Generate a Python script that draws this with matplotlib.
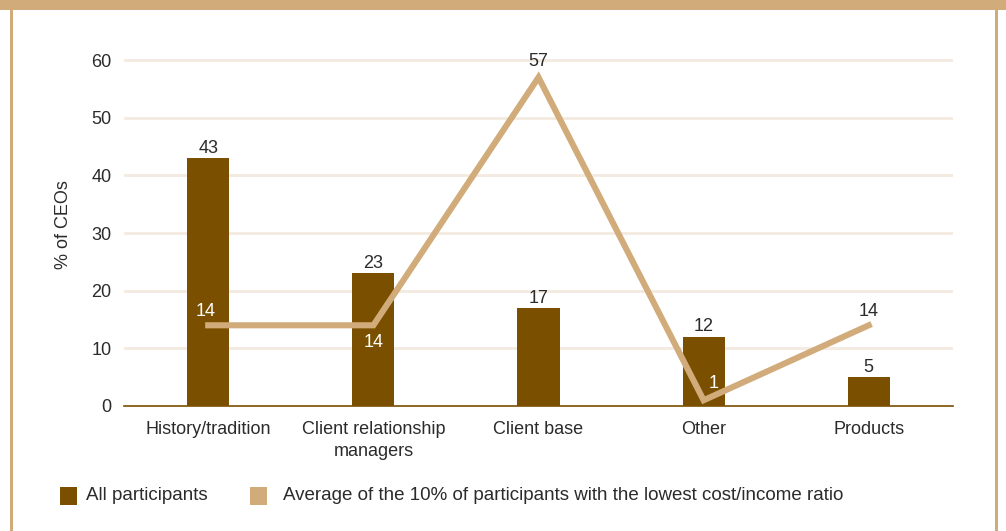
import matplotlib.pyplot as plt
from matplotlib.patches import Rectangle

plt.rcParams["font.family"] = ["Liberation Sans", "DejaVu Sans"]

categories = ["History/tradition", "Client relationship\nmanagers", "Client base",
              "Other", "Products"]
all_participants = [43, 23, 17, 12, 5]
lowest_cost_income = [14, 14, 57, 1, 14]

BAR_COLOR = "#7A5000"
LINE_COLOR = "#D2AB7A"
GRID_COLOR = "#F3EAE0"
TEXT_COLOR = "#2B2B2B"
FS = 13

fig = plt.figure(figsize=(10.06, 5.31), dpi=100)

# page frame: tan band on top, thin rules on the sides
fig.patches.append(Rectangle((0, 1 - 10 / 531), 1, 10 / 531, transform=fig.transFigure,
                             facecolor=LINE_COLOR, edgecolor="none"))
fig.patches.append(Rectangle((10 / 1006, 0), 3 / 1006, 1, transform=fig.transFigure,
                             facecolor=LINE_COLOR, edgecolor="none"))
fig.patches.append(Rectangle((995 / 1006, 0), 3 / 1006, 1, transform=fig.transFigure,
                             facecolor=LINE_COLOR, edgecolor="none"))

ax = fig.add_axes([124 / 1006, 125 / 531, 829 / 1006, 0.684])
x = range(len(categories))

ax.bar(x, all_participants, width=0.255, color=BAR_COLOR, zorder=2)
ax.plot(x, lowest_cost_income, color=LINE_COLOR, linewidth=4.4,
        solid_joinstyle="miter", zorder=3)

ax.set_xlim(-0.51, 4.51)
ax.set_ylim(0, 63)
ax.set_yticks(range(0, 61, 10))
ax.grid(axis="y", color=GRID_COLOR, linewidth=2, zorder=0)
ax.set_axisbelow(True)
for side in ["top", "right", "left"]:
    ax.spines[side].set_visible(False)
ax.spines["bottom"].set_color(BAR_COLOR)
ax.spines["bottom"].set_linewidth(1.2)
ax.spines["bottom"].set_zorder(4)
ax.tick_params(axis="both", length=0, labelsize=FS, colors=TEXT_COLOR)
ax.tick_params(axis="y", pad=9)
ax.tick_params(axis="x", pad=11)
ax.set_xticks(list(x))
ax.set_xticklabels(categories, linespacing=1.4)
ax.set_ylabel("% of CEOs", fontsize=FS, color=TEXT_COLOR, labelpad=14)

# value labels for the bars
for i, v in enumerate(all_participants):
    ax.annotate(str(v), (i, v), xytext=(0, 1), textcoords="offset points",
                ha="center", va="bottom", fontsize=FS, color=TEXT_COLOR)

# value labels for the line; white where they sit on a bar
line_label_offsets = [(-2, 4, "bottom", "white"), (0, -6, "top", "white"),
                      (0, 5, "bottom", TEXT_COLOR), (7, 6, "bottom", "white"),
                      (0, 4, "bottom", TEXT_COLOR)]
for i, v in enumerate(lowest_cost_income):
    dx, dy, va, col = line_label_offsets[i]
    ax.annotate(str(v), (i, v), xytext=(dx, dy), textcoords="offset points",
                ha="center", va=va, fontsize=FS, color=col, zorder=5)

# legend row
fig.patches.append(Rectangle((60 / 1006, 26 / 531), 17 / 1006, 18 / 531,
                             transform=fig.transFigure, facecolor=BAR_COLOR))
fig.text(86 / 1006, 36 / 531, "All participants", fontsize=13.5, color=TEXT_COLOR,
         va="center", ha="left")
fig.patches.append(Rectangle((250 / 1006, 26 / 531), 17 / 1006, 18 / 531,
                             transform=fig.transFigure, facecolor=LINE_COLOR))
fig.text(283 / 1006, 36 / 531,
         "Average of the 10% of participants with the lowest cost/income ratio",
         fontsize=13.5, color=TEXT_COLOR, va="center", ha="left")

fig.savefig("out.png", dpi=100)
